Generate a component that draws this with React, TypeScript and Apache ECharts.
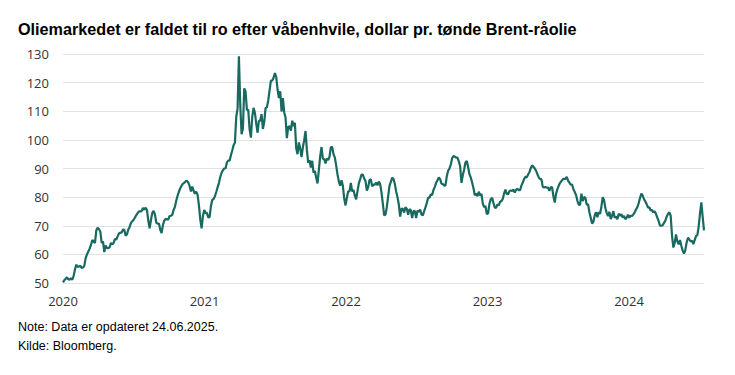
import React, { useEffect, useRef } from "react";
import * as echarts from "echarts";

const titleText = "Oliemarkedet er faldet til ro efter våbenhvile, dollar pr. tønde Brent-råolie";
const noteLines = ["Note: Data er opdateret 24.06.2025.", "Kilde: Bloomberg."];

const yMin = 50;
const yMax = 130;
const yStep = 10;
const startYear = 2020;
const endYear = 2024.53;

// Brent price readings (USD/barrel), evenly spaced in time from startYear to endYear
const pricesA = [
  50.2, 51, 51.5, 52, 51.3, 51.2, 51.6, 51.2, 52.5, 54.8, 56.4, 55.6, 55.8, 56, 55.3, 55.4, 56, 58.7, 60, 61,
  62, 63.3, 65, 64.5, 64, 68.4, 69.3, 68.8, 68, 64, 64.5, 60.8, 63.1, 62.2, 62.2, 62.5, 64, 63.5, 64, 65.4,
  65.2, 66.3, 67.3, 67.6, 67.6, 68.7, 68.6, 66.5, 67, 68.7, 69.6, 71, 71.6, 72.1, 72.9, 73.7, 74.4, 75, 75, 75.1,
  76.2, 75.6, 76.3, 75.5, 71.8, 69.1, 72, 74.5, 75.2, 74, 71.1, 70.7, 70.8, 68.6, 67.4, 70.3, 71.8, 72.4, 72.2, 72.2,
  73.4, 73.5, 73.8, 75.5, 76.6, 78.8, 80.5, 81.9, 83.1, 84, 84.7, 85, 85.5, 85.7, 85.1, 83.9,
];
const pricesB = [
  82, 83.7, 82.2, 81.2, 81.9, 80.8, 77.1, 72.2, 69.1, 73.4, 75.5, 74.4, 74.5, 72.9, 73, 76.8, 79.1, 79.3, 80.3, 81.8,
  83.4, 84.9, 87, 88.5, 89.4, 90, 90.1, 92.1, 92.8, 92.7, 94.6, 96.3, 98.1, 99, 108, 111, 129.2, 112.3, 102, 104,
  118, 116.9, 110.5, 110.5, 103.8, 100.8, 108, 111.2, 109.5, 105.7, 102.5, 106.6, 106.8, 109, 103.8, 106.2, 111.1, 111.4, 113.7, 117.2,
  120.7, 120.7, 121.7, 123.3, 122, 117.6, 114.6, 117, 109.9, 114.6, 109.6, 107.7, 100.6, 104.5, 104.8, 103.2, 106.7, 104.8, 106, 97.1,
  95, 99.1, 97, 94, 97.4, 99.9, 103.1, 96.5, 92, 92.9, 90.3, 92.7, 88.6, 89.1, 86.8, 84.8, 89.5, 94.3, 97.5,
];
const pricesC = [
  93.4, 93.3, 91.8, 93.5, 92.9, 94.1, 97.5, 97.5, 95, 93.8, 91, 87.9, 85.4, 84, 85.9, 84, 79.6, 77.1, 79.7, 82,
  82, 85, 82, 82.5, 80.5, 79.2, 82.1, 84.8, 86.3, 87.9, 87.9, 86.5, 85.6, 82.3, 83.5, 86, 86.2, 83.8, 84.4, 84.4,
  85.1, 84.1, 85.4, 84.6, 81.6, 77.7, 73.6, 73.9, 76.5, 80.3, 83.9, 85.3, 86.8, 86.3, 84.6, 82, 80, 77.4, 73.2, 76,
  75.9, 74.6, 76.5, 75.9, 73.8, 75.8, 75.4, 72.7, 75.1, 75.2, 72.7, 75.3, 74.8, 75.7, 73.9, 73.6, 75.1, 76.4, 78, 79.8,
  79.8, 80.9, 80.8, 82.5, 83.6, 85, 85.9, 86.9, 86.3, 84.7, 84.6, 84, 84.1, 87.3, 89.2, 90, 91.4, 93.6,
];
const pricesD = [
  94.3, 94.2, 93.8, 93.8, 92.5, 90.8, 85, 87.6, 89.6, 92.1, 92.6, 90.5, 88, 86.8, 85.1, 83.2, 80.6, 81.3, 80.3, 81.9,
  80.6, 81.1, 77.8, 76.5, 76.9, 74.1, 74.3, 77.7, 79.3, 79.8, 78, 76.4, 76.2, 77.5, 77.1, 78.4, 78.6, 79.4, 81.3, 82.6,
  81.1, 81, 82.1, 82.3, 82.2, 82.6, 81.6, 82.6, 82.9, 82.4, 82.4, 84, 85.1, 86.3, 87.1, 86.9, 87.9, 88.7, 90.1, 91.1,
  90.6, 90, 89.2, 88, 86.9, 86.3, 86.3, 83.6, 83.3, 83.6, 83.3, 83.3, 82.2, 83.4, 83.5, 80.3, 78.1, 81.2, 82.8, 84,
  85, 85.6, 86.2, 86.4, 86.4, 87.1, 85.8, 85.1, 84.4, 84.4, 82.8, 81.8, 80.7, 78.7, 77.4, 77.3, 81.2,
];
const pricesE = [
  78.6, 80, 79.8, 77.3, 77.5, 74.7, 72.8, 70.8, 71.4, 73.6, 74.7, 73, 74.8, 74.1, 76.7, 80, 78.9, 76.1, 74.5, 73.4,
  74.9, 72.3, 73.5, 75.1, 72.8, 73.2, 72.3, 74.2, 73.5, 74, 72.9, 73.4, 72.3, 72.8, 73.9, 72.8, 73.5, 73.4, 74, 74.7,
  75.7, 76.5, 77.9, 79.7, 81.2, 80.5, 79.2, 78.5, 77.5, 76.3, 76.5, 75.3, 75.5, 74.6, 75.1, 74.1, 72.8, 71.6, 70, 70,
  70.2, 71, 71.8, 73.2, 74.1, 74.7, 73.5, 66.5, 62.4, 64, 67, 64.5, 63.5, 65, 63, 61.3, 60.3, 61.6, 64.2, 65.8,
  65.2, 64.5, 64.8, 63.6, 65, 66.4, 66.7, 69.7, 74.2, 78.2, 73.1, 68.4,
];

export default function App() {
  const ref = useRef<HTMLDivElement>(null);
  useEffect(() => {
    if (!ref.current) return;
    const chart = echarts.init(ref.current, null, { renderer: "svg" });
    const prices = [...pricesA, ...pricesB, ...pricesC, ...pricesD, ...pricesE];
    const step = (endYear - startYear) / (prices.length - 1);
    const data = prices.map((v, i) => [startYear + i * step, v]);
    chart.setOption({
      animation: false,
      backgroundColor: "#ffffff",
      title: {
        text: titleText,
        left: 18,
        top: 21,
        padding: 0,
        textStyle: { fontSize: 16.2, fontWeight: "bold", fontFamily: "Liberation Sans", color: "#000" },
      },
      grid: { left: 63, right: 31, top: 54, bottom: 92, containLabel: false },
      xAxis: {
        type: "value",
        min: startYear,
        max: endYear,
        interval: 1,
        axisLine: { show: false },
        axisTick: { show: false },
        splitLine: { show: false },
        axisLabel: {
          color: "#333",
          fontSize: 13,
          fontFamily: "Open Sans",
          margin: 11,
          formatter: (v: number) => (Math.abs(v - Math.round(v)) < 1e-6 ? String(Math.round(v)) : ""),
        },
      },
      yAxis: {
        type: "value",
        min: yMin,
        max: yMax,
        interval: yStep,
        axisLine: { show: false },
        axisTick: { show: false },
        splitLine: { lineStyle: { color: "#e2e2e2", width: 1 } },
        axisLabel: { color: "#333", fontSize: 13, fontFamily: "Open Sans", margin: 14 },
      },
      series: [
        {
          type: "line",
          data,
          showSymbol: false,
          lineStyle: { color: "#186a60", width: 2.2 },
        },
      ],
      graphic: [
        {
          type: "text",
          left: 18,
          top: 317,
          style: {
            text: noteLines.join("\n"),
            font: "12.5px 'Liberation Sans'",
            lineHeight: 19,
            fill: "#000",
          },
        },
      ],
    });
    return () => chart.dispose();
  }, []);
  return (
    <div
      ref={ref}
      style={{ position: "absolute", left: 0, top: 0, width: 735, height: 375, background: "#fff" }}
    />
  );
}
